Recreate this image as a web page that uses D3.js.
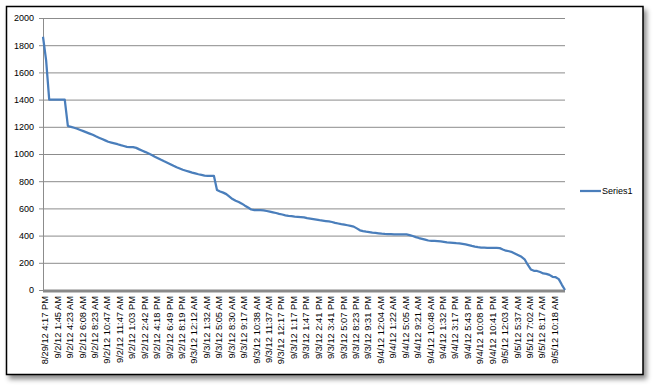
<!DOCTYPE html>
<html>
<head>
<meta charset="utf-8">
<script src="https://cdn.jsdelivr.net/npm/d3@7"></script>
<style>
    body { margin: 0; background: #ffffff; }
    text { font-family: "Liberation Sans", Arial, sans-serif; fill: #000; }
</style>
</head>
<body>
<svg id="chart" width="659" height="391"></svg>
<script>

    // category labels shown on the x axis (every 4th data point)
    var categories = [
        "8/29/12 4:17 PM", "9/2/12 1:45 AM", "9/2/12 4:23 AM", "9/2/12 6:08 AM",
        "9/2/12 8:23 AM", "9/2/12 10:47 AM", "9/2/12 11:47 AM", "9/2/12 1:03 PM",
        "9/2/12 2:42 PM", "9/2/12 4:18 PM", "9/2/12 6:49 PM", "9/2/12 8:19 PM",
        "9/3/12 12:12 AM", "9/3/12 1:32 AM", "9/3/12 5:05 AM", "9/3/12 8:30 AM",
        "9/3/12 9:17 AM", "9/3/12 10:38 AM", "9/3/12 11:37 AM", "9/3/12 12:17 PM",
        "9/3/12 1:17 PM", "9/3/12 1:47 PM", "9/3/12 2:41 PM", "9/3/12 3:41 PM",
        "9/3/12 5:07 PM", "9/3/12 8:23 PM", "9/3/12 9:31 PM", "9/4/12 12:04 AM",
        "9/4/12 1:22 AM", "9/4/12 5:05 AM", "9/4/12 9:21 AM", "9/4/12 10:48 AM",
        "9/4/12 1:32 PM", "9/4/12 3:17 PM", "9/4/12 5:43 PM", "9/4/12 10:08 PM",
        "9/4/12 10:41 PM", "9/5/12 12:03 AM", "9/5/12 5:37 AM", "9/5/12 7:02 AM",
        "9/5/12 8:17 AM", "9/5/12 10:18 AM"
    ];

    // Series1 values
    var series1 = [
        1862, 1690, 1400, 1400, 1400, 1400, 1400, 1400, 1206, 1200,
        1193, 1186, 1177, 1168, 1159, 1150, 1141, 1130, 1120, 1110,
        1100, 1090, 1084, 1078, 1072, 1065, 1059, 1053, 1051, 1050,
        1045, 1034, 1024, 1014, 1003, 992, 980, 969, 957, 946,
        936, 925, 913, 902, 893, 884, 877, 870, 863, 857,
        851, 846, 841, 840, 840, 840, 735, 724, 716, 705,
        687, 669, 656, 647, 635, 620, 606, 592, 588, 587,
        587, 586, 581, 576, 571, 566, 560, 555, 549, 545,
        543, 540, 538, 536, 534, 529, 525, 521, 517, 513,
        510, 507, 504, 500, 494, 489, 484, 480, 476, 471,
        466, 453, 439, 433, 429, 426, 422, 420, 417, 414,
        412, 411, 410, 409, 409, 409, 409, 409, 404, 397,
        389, 382, 376, 370, 364, 362, 361, 360, 357, 354,
        351, 349, 347, 344, 342, 339, 336, 330, 324, 319,
        315, 312, 311, 310, 310, 310, 309, 308, 298, 289,
        285, 278, 267, 256, 244, 226, 186, 151, 141, 140,
        132, 122, 119, 111, 97, 94, 80, 38, 0
    ];

    var yTicks = [0, 200, 400, 600, 800, 1000, 1200, 1400, 1600, 1800, 2000];
    var seriesNames = ["Series1"];

    var svg = d3.select("#chart");
    var lineColor = "#4a7ebb";

    // outer frame with a soft shadow
    var defs = svg.append("defs");
    var filter = defs.append("filter").attr("id", "shadow")
        .attr("x", "-5%").attr("y", "-5%").attr("width", "115%").attr("height", "115%");
    filter.append("feDropShadow")
        .attr("dx", 3).attr("dy", 4).attr("stdDeviation", 2.5)
        .attr("flood-color", "#000").attr("flood-opacity", 0.45);

    svg.append("rect")
        .attr("x", 6.5).attr("y", 6.5)
        .attr("width", 636.5).attr("height", 368)
        .style("fill", "#ffffff")
        .style("stroke", "#000")
        .style("stroke-width", 1.5)
        .attr("filter", "url(#shadow)");

    var plot = { left: 43, right: 565, top: 18, bottom: 290 };

    var x = d3.scaleLinear()
        .domain([0, series1.length - 1])
        .range([plot.left, plot.right]);

    var y = d3.scaleLinear()
        .domain([0, d3.max(yTicks)])
        .range([plot.bottom, plot.top]);

    var step = (series1.length - 1) / categories.length;

    // gridlines
    svg.append("g")
        .attr("transform", "translate(" + plot.left + ",0)")
        .call(d3.axisLeft(y).tickValues(yTicks).tickSize(-(plot.right - plot.left)).tickFormat(""))
        .call(function (g) {
            g.select(".domain").remove();
            g.selectAll("line").style("stroke", "#8c8c8c").style("stroke-width", 1);
        });

    // y axis
    svg.append("g")
        .attr("transform", "translate(" + plot.left + ",0)")
        .call(d3.axisLeft(y).tickValues(yTicks).tickFormat(d3.format("d")).tickSize(4).tickPadding(5))
        .call(function (g) {
            g.select(".domain").style("stroke", "#8c8c8c");
            g.selectAll("line").style("stroke", "#8c8c8c");
            g.selectAll("text").style("font-size", "9px").style("font-family", "Liberation Sans, Arial, sans-serif");
        });

    // x axis: thick grey base line
    svg.append("line")
        .attr("x1", plot.left).attr("x2", plot.right)
        .attr("y1", y(0) + 1).attr("y2", y(0) + 1)
        .style("stroke", "#8a8a8a")
        .style("stroke-width", 3);

    // x labels, rotated
    svg.append("g").selectAll("text")
        .data(categories)
        .enter().append("text")
        .attr("transform", function (d, i) {
            return "translate(" + (x(i * step) + 2) + "," + (plot.bottom + 6) + ") rotate(-90)";
        })
        .attr("dy", "0.35em")
        .style("text-anchor", "end")
        .style("font-size", "9.3px")
        .text(function (d) { return d; });

    // the series line
    var line = d3.line()
        .x(function (d, i) { return x(i); })
        .y(function (d) { return y(d); });

    svg.append("path")
        .datum(series1)
        .attr("d", line)
        .style("fill", "none")
        .style("stroke", lineColor)
        .style("stroke-width", 2.25)
        .style("stroke-linejoin", "round");

    // legend
    var legend = svg.append("g").attr("transform", "translate(580,191)");
    legend.selectAll("line").data(seriesNames).enter().append("line")
        .attr("x1", 0).attr("x2", 21)
        .style("stroke", lineColor)
        .style("stroke-width", 2.25);
    legend.selectAll("text").data(seriesNames).enter().append("text")
        .attr("x", 22).attr("dy", "0.35em")
        .style("font-size", "9px")
        .text(function (d) { return d; });

</script>
</body>
</html>
